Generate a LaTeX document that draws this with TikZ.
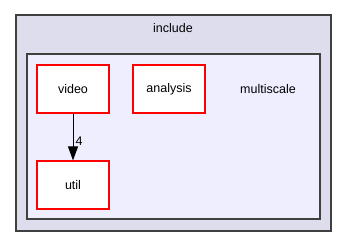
\documentclass[tikz,border=0pt]{standalone}
\usepackage{fontspec}
\setmainfont{Liberation Sans}
\usetikzlibrary{arrows.meta}

\definecolor{outerfill}{HTML}{DDDDEE}
\definecolor{innerfill}{HTML}{EEEEFF}
\definecolor{frame}{HTML}{404040}

\tikzset{
  dirbox/.style={draw=red, line width=1.2pt, fill=white, minimum width=72pt,
    minimum height=48pt, inner sep=0pt},
  cluster/.style={draw=frame, line width=1.3pt},
  dep/.style={-{Triangle[length=14pt,width=10pt]}, line width=1pt}
}

\begin{document}
\begin{tikzpicture}[x=1pt, y=-1pt, font=\fontsize{12.5}{15}\selectfont]
  \useasboundingbox (0,0) rectangle (347,247);

  % include and multiscale directories
  \draw[cluster, fill=outerfill] (16,15) rectangle (331,231);
  \node (include) at (173,28) {include};
  \draw[cluster, fill=innerfill] (27,54) rectangle (320,219);
  \node (multiscale) at (268,89) {multiscale};

  % subdirectories
  \node[dirbox] (video)    at (73,89)  {video};
  \node[dirbox] (analysis) at (169,89) {analysis};
  \node[dirbox] (util)     at (73,185) {util};

  % dependency
  \draw[dep] (video) -- (util) node[pos=0.6, right, inner sep=2pt] {4};
\end{tikzpicture}
\end{document}
